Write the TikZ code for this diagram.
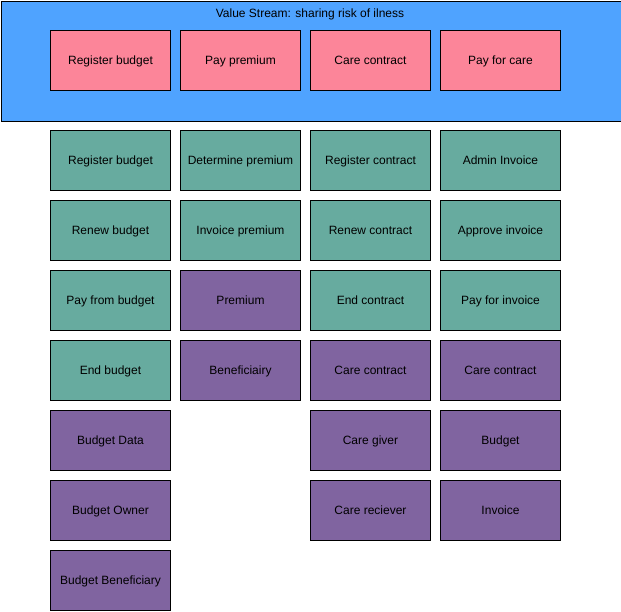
\documentclass[tikz,border=0pt]{standalone}
\usepackage{fontspec}
\setmainfont{Liberation Sans}
\definecolor{vsblue}{RGB}{79,163,255}
\definecolor{vspink}{RGB}{252,133,153}
\definecolor{capgreen}{RGB}{103,171,159}
\definecolor{datapurple}{RGB}{128,100,160}
\begin{document}
\begin{tikzpicture}[x=1pt,y=-1pt,
  box/.style={draw=black,line width=1pt,minimum width=120pt,minimum height=60pt,inner sep=0pt,anchor=north west,font=\fontsize{12}{14}\selectfont,text=black,text height=11.4pt,text depth=2.6pt},
  stagebox/.style={box,fill=vspink},
  capbox/.style={box,fill=capgreen},
  databox/.style={box,fill=datapurple}]
\useasboundingbox (0,0) rectangle (621,611);
\node[draw=black,line width=1pt,fill=vsblue,minimum width=620pt,minimum height=120pt,inner sep=0pt,anchor=north west] (vs) at (0.5,0.5) {};
\node[font=\fontsize{12}{14}\selectfont,text=black,text height=8.6pt,text depth=2.6pt,inner sep=0pt] (vstitle) at (310,14.5) {Value Stream: sharing risk of ilness};
\node[stagebox] (s1) at (50,30) {Register budget};
\node[stagebox] (s2) at (180,30) {Pay premium};
\node[stagebox] (s3) at (310,30) {Care contract};
\node[stagebox] (s4) at (440,30) {Pay for care};
% column 1
\node[capbox] (a1) at (50,130) {Register budget};
\node[capbox] (a2) at (50,200) {Renew budget};
\node[capbox] (a3) at (50,270) {Pay from budget};
\node[capbox] (a4) at (50,340) {End budget};
\node[databox] (a5) at (50,410) {Budget Data};
\node[databox] (a6) at (50,480) {Budget Owner};
\node[databox] (a7) at (50,550) {Budget Beneficiary};
% column 2
\node[capbox] (b1) at (180,130) {Determine premium};
\node[capbox] (b2) at (180,200) {Invoice premium};
\node[databox] (b3) at (180,270) {Premium};
\node[databox] (b4) at (180,340) {Beneficiairy};
% column 3
\node[capbox] (c1) at (310,130) {Register contract};
\node[capbox] (c2) at (310,200) {Renew contract};
\node[capbox] (c3) at (310,270) {End contract};
\node[databox] (c4) at (310,340) {Care contract};
\node[databox] (c5) at (310,410) {Care giver};
\node[databox] (c6) at (310,480) {Care reciever};
% column 4
\node[capbox] (d1) at (440,130) {Admin Invoice};
\node[capbox] (d2) at (440,200) {Approve invoice};
\node[capbox] (d3) at (440,270) {Pay for invoice};
\node[databox] (d4) at (440,340) {Care contract};
\node[databox] (d5) at (440,410) {Budget};
\node[databox] (d6) at (440,480) {Invoice};
\end{tikzpicture}
\end{document}
